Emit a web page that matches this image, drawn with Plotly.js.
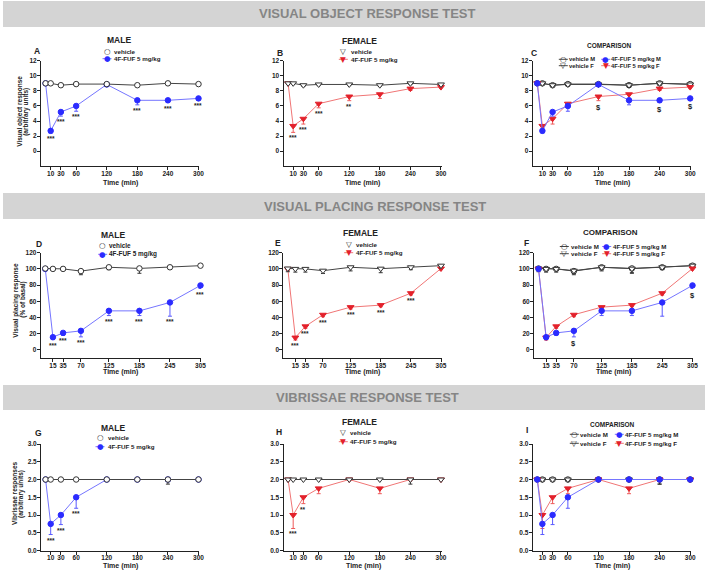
<!DOCTYPE html>
<html><head><meta charset="utf-8">
<script src="https://cdn.plot.ly/plotly-3.0.1.min.js"></script>
<style>html,body{margin:0;padding:0;background:#fff}</style>
</head><body><div id="chart" style="width:708px;height:570px"></div>
<script>
// ---------------- DATA ----------------
const timeObj   = [0, 10, 30, 60, 120, 180, 240, 300];
const timePlace = [0, 15, 35, 70, 125, 185, 245, 305];
const timeVib   = [0, 10, 30, 60, 120, 180, 240, 300];

const xTicksObj   = [10, 30, 60, 120, 180, 240, 300];
const xTicksPlace = [15, 35, 70, 125, 185, 245, 305];
const xTicksVib   = [10, 30, 60, 120, 180, 240, 300];
const yTicksObj   = [0, 2, 4, 6, 8, 10, 12];
const yTicksPlace = [0, 20, 40, 60, 80, 100, 120];
const yTicksVib   = [0, 0.5, 1, 1.5, 2, 2.5, 3];
const yTickTextVib = ['0.0', '0.5', '1.0', '1.5', '2.0', '2.5', '3.0'];

// Visual object response
const objVehM     = [9.0, 9.0, 8.75, 8.9, 8.9, 8.75, 9.0, 8.9];
const objVehMErr  = [0.1, 0.1, 0.15, 0.15, 0.15, 0.15, 0.15, 0.15];
const objDrugM    = [9.0, 2.7, 5.2, 6.0, 8.85, 6.75, 6.75, 7.0];
const objDrugMErr = [0.1, 0.3, 0.55, 0.7, 0.15, 0.6, 0.3, 0.25];
const objVehF     = [9.0, 9.0, 8.75, 8.85, 8.85, 8.75, 9.0, 8.85];
const objVehFErr  = [0.1, 0.1, 0.15, 0.15, 0.15, 0.15, 0.15, 0.15];
const objDrugF    = [9.0, 3.35, 4.3, 6.3, 7.25, 7.55, 8.3, 8.5];
const objDrugFErr = [0.1, 0.85, 0.7, 0.55, 0.55, 0.55, 0.25, 0.2];
const objSigM  = ['', '***', '***', '***', '', '***', '***', '***'];
const objSigF  = ['', '***', '***', '***', '**', '', '', ''];
const objSigMF = ['', '', '', '', '$', '', '$', '$'];

// Visual placing response
const plVehM     = [100.5, 100, 100, 97.3, 102, 100.6, 102, 104];
const plVehMErr  = [1.5, 2, 2, 4.5, 3, 6, 2, 2];
const plDrugM    = [100, 15.7, 21, 23.5, 48.2, 48.2, 58.6, 79.6];
const plDrugMErr = [1.5, 3, 3, 7.4, 5.8, 5.8, 17, 3.8];
const plVehF     = [100.5, 100, 100, 97.8, 102, 100.3, 102, 104];
const plVehFErr  = [4, 4, 4, 3.5, 4.5, 5, 3, 3];
const plDrugF    = [100, 15.2, 29.1, 43.4, 52.8, 55.3, 70, 100.5];
const plDrugFErr = [1.5, 3, 2.4, 2.4, 2.3, 2, 2.3, 2];
const plSigM  = ['', '***', '***', '***', '***', '***', '***', '***'];
const plSigF  = ['', '***', '***', '***', '***', '***', '***', ''];
const plSigMF = ['', '', '', '$', '', '', '', '$'];

// Vibrissae response
const vbVehM     = [2, 2, 2, 2, 2, 2, 2, 2];
const vbVehMErr  = [0, 0, 0, 0, 0, 0, 0.13, 0];
const vbDrugM    = [2, 0.75, 1.0, 1.5, 2, 2, 2, 2];
const vbDrugMErr = [0, 0.3, 0.27, 0.31, 0, 0, 0, 0];
const vbVehF     = [2, 2, 2, 2, 2, 2, 2, 2];
const vbVehFErr  = [0, 0, 0, 0, 0, 0, 0.13, 0];
const vbDrugF    = [2, 1.0, 1.5, 1.75, 2, 1.75, 2, 2];
const vbDrugFErr = [0, 0.38, 0.18, 0.15, 0, 0.15, 0, 0];
const vbSigM  = ['', '***', '***', '***', '', '', '', ''];
const vbSigF  = ['', '***', '**', '', '', '', '', ''];
const vbSigMF = ['', '', '', '', '', '', '', ''];

// ---------------- STYLE / LAYOUT ----------------
const W = 708, H = 570;
const FONT = 'Liberation Sans, Arial, sans-serif';
const GLYPH = 'DejaVu Sans, sans-serif';
const px = x => x / W;
const py = y => 1 - y / H;

const ST = {
  vehM:  {line: '#444', symbol: 'circle', size: 5.5, fill: '#ffffff', mline: '#333', err: '#333'},
  vehF:  {line: '#444', symbol: 'triangle-down', size: 6, fill: '#ffffff', mline: '#333', err: '#333'},
  drugM: {line: '#7575ff', symbol: 'circle', size: 5.5, fill: '#2b2bff', mline: '#2b2bff', err: '#5a5aff'},
  drugF: {line: '#f07575', symbol: 'triangle-down', size: 6, fill: '#e3212b', mline: '#e3212b', err: '#ee5a5a'}
};

function trace(t, v, e, st, k) {
  return {
    type: 'scatter', mode: 'lines+markers', x: t, y: v,
    xaxis: 'x' + (k === 1 ? '' : k), yaxis: 'y' + (k === 1 ? '' : k),
    line: {color: st.line, width: 1},
    marker: {symbol: st.symbol, size: st.size, color: st.fill, line: {color: st.mline, width: 1}},
    error_y: {type: 'data', symmetric: false, array: e.map(() => 0), arrayminus: e,
              color: st.err, thickness: 1, width: 2},
    cliponaxis: false, hoverinfo: 'skip'
  };
}

const colX = {
  r1: [[41, 199], [283.5, 441.5], [532.7, 690.7]],
  r2: [[40.7, 201], [283.3, 441.5], [534, 693]]
};
const rowY = {r1: [60.7, 166.3], r2: [252.7, 358], r3: [444, 550.5]};

const TICKFONT = {family: FONT, size: 6.5, weight: 'bold', color: '#222'};
function xaxis(dom, range, ticks, anchor) {
  return {domain: [px(dom[0]), px(dom[1])], range: range, tickvals: ticks, ticktext: ticks.map(String),
    anchor: anchor, showline: true, linecolor: '#222', linewidth: 1, ticks: 'outside', ticklen: 3,
    tickwidth: 1, tickcolor: '#222', showgrid: false, zeroline: false, fixedrange: true,
    ticklabelstandoff: -2, tickfont: TICKFONT};
}
function yaxis(dom, range, ticks, ticktext, anchor) {
  return {domain: [py(dom[1]), py(dom[0])], range: range, tickvals: ticks, ticktext: ticktext,
    anchor: anchor, showline: true, linecolor: '#222', linewidth: 1, ticks: 'outside', ticklen: 3,
    tickwidth: 1, tickcolor: '#222', showgrid: false, zeroline: false, fixedrange: true,
    ticklabelstandoff: -1, tickfont: TICKFONT};
}

const layout = {
  width: W, height: H, margin: {l: 0, r: 0, t: 0, b: 0},
  paper_bgcolor: '#ffffff', plot_bgcolor: 'rgba(0,0,0,0)', showlegend: false,
  font: {family: FONT, color: '#222'}, shapes: [], annotations: []
};

const panels = [
  {k: 1, x: colX.r1[0], y: rowY.r1, xr: [-9, 301], yr: [-2, 12], xt: xTicksObj, yt: yTicksObj, ytt: yTicksObj.map(String)},
  {k: 2, x: colX.r1[1], y: rowY.r1, xr: [-9, 301], yr: [-2, 12], xt: xTicksObj, yt: yTicksObj, ytt: yTicksObj.map(String)},
  {k: 3, x: colX.r1[2], y: rowY.r1, xr: [-9, 301], yr: [-2, 12], xt: xTicksObj, yt: yTicksObj, ytt: yTicksObj.map(String)},
  {k: 4, x: colX.r2[0], y: rowY.r2, xr: [-9, 306], yr: [-10, 120], xt: xTicksPlace, yt: yTicksPlace, ytt: yTicksPlace.map(String)},
  {k: 5, x: colX.r2[1], y: rowY.r2, xr: [-9, 306], yr: [-10, 120], xt: xTicksPlace, yt: yTicksPlace, ytt: yTicksPlace.map(String)},
  {k: 6, x: colX.r2[2], y: rowY.r2, xr: [-9, 306], yr: [-10, 120], xt: xTicksPlace, yt: yTicksPlace, ytt: yTicksPlace.map(String)},
  {k: 7, x: colX.r1[0], y: rowY.r3, xr: [-9, 301], yr: [0, 3], xt: xTicksVib, yt: yTicksVib, ytt: yTickTextVib},
  {k: 8, x: colX.r1[1], y: rowY.r3, xr: [-9, 301], yr: [0, 3], xt: xTicksVib, yt: yTicksVib, ytt: yTickTextVib},
  {k: 9, x: colX.r1[2], y: rowY.r3, xr: [-9, 301], yr: [0, 3], xt: xTicksVib, yt: yTicksVib, ytt: yTickTextVib}
];
panels.forEach(p => {
  const s = p.k === 1 ? '' : p.k;
  layout['xaxis' + s] = xaxis(p.x, p.xr, p.xt, 'y' + s);
  layout['yaxis' + s] = yaxis(p.y, p.yr, p.yt, p.ytt, 'x' + s);
});

// ---------------- TRACES ----------------
const data = [];
data.push(trace(timeObj, objDrugM, objDrugMErr, ST.drugM, 1));
data.push(trace(timeObj, objVehM, objVehMErr, ST.vehM, 1));
data.push(trace(timeObj, objDrugF, objDrugFErr, ST.drugF, 2));
data.push(trace(timeObj, objVehF, objVehFErr, ST.vehF, 2));
data.push(trace(timeObj, objVehM, objVehMErr, ST.vehM, 3));
data.push(trace(timeObj, objVehF, objVehFErr, ST.vehF, 3));
data.push(trace(timeObj, objDrugF, objDrugFErr, ST.drugF, 3));
data.push(trace(timeObj, objDrugM, objDrugMErr, ST.drugM, 3));
data.push(trace(timePlace, plDrugM, plDrugMErr, ST.drugM, 4));
data.push(trace(timePlace, plVehM, plVehMErr, ST.vehM, 4));
data.push(trace(timePlace, plDrugF, plDrugFErr, ST.drugF, 5));
data.push(trace(timePlace, plVehF, plVehFErr, ST.vehF, 5));
data.push(trace(timePlace, plVehM, plVehMErr, ST.vehM, 6));
data.push(trace(timePlace, plVehF, plVehFErr, ST.vehF, 6));
data.push(trace(timePlace, plDrugF, plDrugFErr, ST.drugF, 6));
data.push(trace(timePlace, plDrugM, plDrugMErr, ST.drugM, 6));
data.push(trace(timeVib, vbDrugM, vbDrugMErr, ST.drugM, 7));
data.push(trace(timeVib, vbVehM, vbVehMErr, ST.vehM, 7));
data.push(trace(timeVib, vbDrugF, vbDrugFErr, ST.drugF, 8));
data.push(trace(timeVib, vbVehF, vbVehFErr, ST.vehF, 8));
data.push(trace(timeVib, vbVehM, vbVehMErr, ST.vehM, 9));
data.push(trace(timeVib, vbVehF, vbVehFErr, ST.vehF, 9));
data.push(trace(timeVib, vbDrugF, vbDrugFErr, ST.drugF, 9));
data.push(trace(timeVib, vbDrugM, vbDrugMErr, ST.drugM, 9));

// ---------------- ANNOTATIONS ----------------
const A = layout.annotations, S = layout.shapes;
function txt(x, y, text, size, opts) {
  A.push(Object.assign({xref: 'paper', yref: 'paper', x: px(x), y: py(y), text: text, showarrow: false,
    xanchor: 'center', yanchor: 'middle', borderpad: 0,
    font: {family: FONT, size: size, weight: 'bold', color: '#222'}}, opts || {}));
}
function sig(k, t, v, e, labels) {
  const s = k === 1 ? '' : k;
  labels.forEach((lab, i) => {
    if (!lab) return;
    A.push({xref: 'x' + s, yref: 'y' + s, x: t[i], y: v[i] - e[i], text: lab, showarrow: false,
      xanchor: 'center', yanchor: 'top', yshift: -1, borderpad: 0,
      font: {family: FONT, size: lab === '$' ? 7.5 : 6.5, weight: 'bold', color: '#222'}});
  });
}
function sigMF(k, t, v1, e1, v2, e2, labels) {
  const low = t.map((_, i) => Math.min(v1[i] - e1[i], v2[i] - e2[i]));
  sig(k, t, low, low.map(() => 0), labels);
}

// banners
[[1, 27, 367, 'VISUAL OBJECT RESPONSE TEST'], [193, 219, 375, 'VISUAL PLACING RESPONSE TEST'],
 [385, 410, 367.5, 'VIBRISSAE RESPONSE TEST']].forEach(b => {
  S.push({type: 'rect', xref: 'paper', yref: 'paper', x0: px(3), x1: px(705), y0: py(b[1]), y1: py(b[0]),
    fillcolor: '#d4d4d4', line: {width: 0}, layer: 'below'});
  txt(b[2], (b[0] + b[1]) / 2, b[3], 13, {font: {family: FONT, size: 13, weight: 'bold', color: '#858585'}});
});

// titles
txt(118.7, 40, 'MALE', 8.5); txt(359, 40.7, 'FEMALE', 8.5); txt(609.3, 45, 'COMPARISON', 6.5);
txt(113, 235, 'MALE', 8.5); txt(360.7, 233.3, 'FEMALE', 8.5); txt(610, 232.7, 'COMPARISON', 8);
txt(113, 427.7, 'MALE', 8.5); txt(359, 421.7, 'FEMALE', 8.5); txt(612, 424, 'COMPARISON', 6.5);

// panel letters
[['A', 36.7, 51], ['B', 280, 52.7], ['C', 534, 53.3], ['D', 38.7, 244.3], ['E', 278.3, 243.3],
 ['F', 526, 243.3], ['G', 38, 433.3], ['H', 279.3, 432.3], ['I', 526.7, 430]].forEach(l => txt(l[1], l[2], l[0], 8.5));

// axis titles
[[120, 182.5], [362, 182.5], [612, 182.5], [120, 372], [362, 372], [613, 372], [120, 565.5], [363, 565.5], [612, 565.5]]
  .forEach(p => txt(p[0], p[1], 'Time (min)', 7));
txt(19.3, 111.5, 'Visual object response', 6.5, {textangle: -90});
txt(25.3, 111.5, '(arbitrary units)', 6.5, {textangle: -90});
txt(15.7, 300, 'Visual placing response', 6.5, {textangle: -90});
txt(22.7, 300, '(% of basal)', 6.5, {textangle: -90});
txt(15, 494, 'Vibrissae responses', 6.5, {textangle: -90});
txt(21, 494, '(arbitrary units)', 6.5, {textangle: -90});

// legends
function legEntry(gx, gy, tx, glyph, color, label, size, withLine, lineColor) {
  if (withLine) S.push({type: 'line', xref: 'paper', yref: 'paper', x0: px(gx - 4.5), x1: px(gx + 4.5),
    y0: py(gy), y1: py(gy), line: {color: lineColor, width: 1}});
  txt(gx, gy, glyph, 7.5, {font: {family: GLYPH, size: 7.5, color: color}});
  txt(tx, gy, label, size, {xanchor: 'left'});
}
const LBL_VEH = 'vehicle', LBL_DRUG = '4F-FUF 5 mg/kg';
legEntry(107, 51, 113, '○', '#333', LBL_VEH, 6.2, false);
legEntry(107, 58.7, 113, '●', '#2b2bff', LBL_DRUG, 6.2, true, '#7575ff');
legEntry(343.3, 51, 350, '▽', '#333', LBL_VEH, 6.2, false);
legEntry(343.3, 59.3, 350, '▼', '#e3212b', LBL_DRUG, 6.2, true, '#f07575');
legEntry(563.3, 59.3, 567.5, '○', '#333', LBL_VEH + ' M', 5.8, true, '#444');
legEntry(563.3, 65.7, 567.5, '▽', '#333', LBL_VEH + ' F', 5.8, true, '#444');
legEntry(605.7, 59.3, 610, '●', '#2b2bff', LBL_DRUG + ' M', 5.8, true, '#7575ff');
legEntry(605.7, 65.7, 610, '▼', '#e3212b', LBL_DRUG + ' F', 5.8, true, '#f07575');
legEntry(102.7, 245, 108.3, '○', '#333', LBL_VEH, 6.4, false);
legEntry(102.7, 254.3, 108.3, '●', '#2b2bff', LBL_DRUG, 6.4, true, '#7575ff');
legEntry(348.7, 244, 355.3, '▽', '#333', LBL_VEH, 6.2, false);
legEntry(348.7, 252.7, 355.3, '▼', '#e3212b', LBL_DRUG, 6.2, true, '#f07575');
legEntry(564.3, 246.5, 570, '○', '#333', LBL_VEH + ' M', 6.2, true, '#444');
legEntry(564.3, 253.7, 570, '▽', '#333', LBL_VEH + ' F', 6.2, true, '#444');
legEntry(606.7, 246.5, 611.7, '●', '#2b2bff', LBL_DRUG + ' M', 6.2, true, '#7575ff');
legEntry(606.7, 253.7, 611.7, '▼', '#e3212b', LBL_DRUG + ' F', 6.2, true, '#f07575');
legEntry(100, 437.7, 106.7, '○', '#333', LBL_VEH, 6.2, false);
legEntry(100, 446.7, 106.7, '●', '#2b2bff', LBL_DRUG, 6.2, true, '#7575ff');
legEntry(343.3, 432.7, 349, '▽', '#333', LBL_VEH, 6.2, false);
legEntry(343.3, 441.7, 349, '▼', '#e3212b', LBL_DRUG, 6.2, true, '#f07575');
legEntry(574.3, 434.3, 579, '○', '#333', LBL_VEH + ' M', 6.2, true, '#444');
legEntry(574.3, 443.3, 579, '▽', '#333', LBL_VEH + ' F', 6.2, true, '#444');
legEntry(619.3, 434.3, 624.3, '●', '#2b2bff', LBL_DRUG + ' M', 6.2, true, '#7575ff');
legEntry(619.3, 443.3, 624.3, '▼', '#e3212b', LBL_DRUG + ' F', 6.2, true, '#f07575');

// significance marks
sig(1, timeObj, objDrugM, objDrugMErr, objSigM);
sig(2, timeObj, objDrugF, objDrugFErr, objSigF);
sigMF(3, timeObj, objDrugM, objDrugMErr, objDrugF, objDrugFErr, objSigMF);
sig(4, timePlace, plDrugM, plDrugMErr, plSigM);
sig(5, timePlace, plDrugF, plDrugFErr, plSigF);
sigMF(6, timePlace, plDrugM, plDrugMErr, plDrugF, plDrugFErr, plSigMF);
sig(7, timeVib, vbDrugM, vbDrugMErr, vbSigM);
sig(8, timeVib, vbDrugF, vbDrugFErr, vbSigF);
sigMF(9, timeVib, vbDrugM, vbDrugMErr, vbDrugF, vbDrugFErr, vbSigMF);

Plotly.newPlot('chart', data, layout, {staticPlot: true, displayModeBar: false});
</script>
</body></html>
